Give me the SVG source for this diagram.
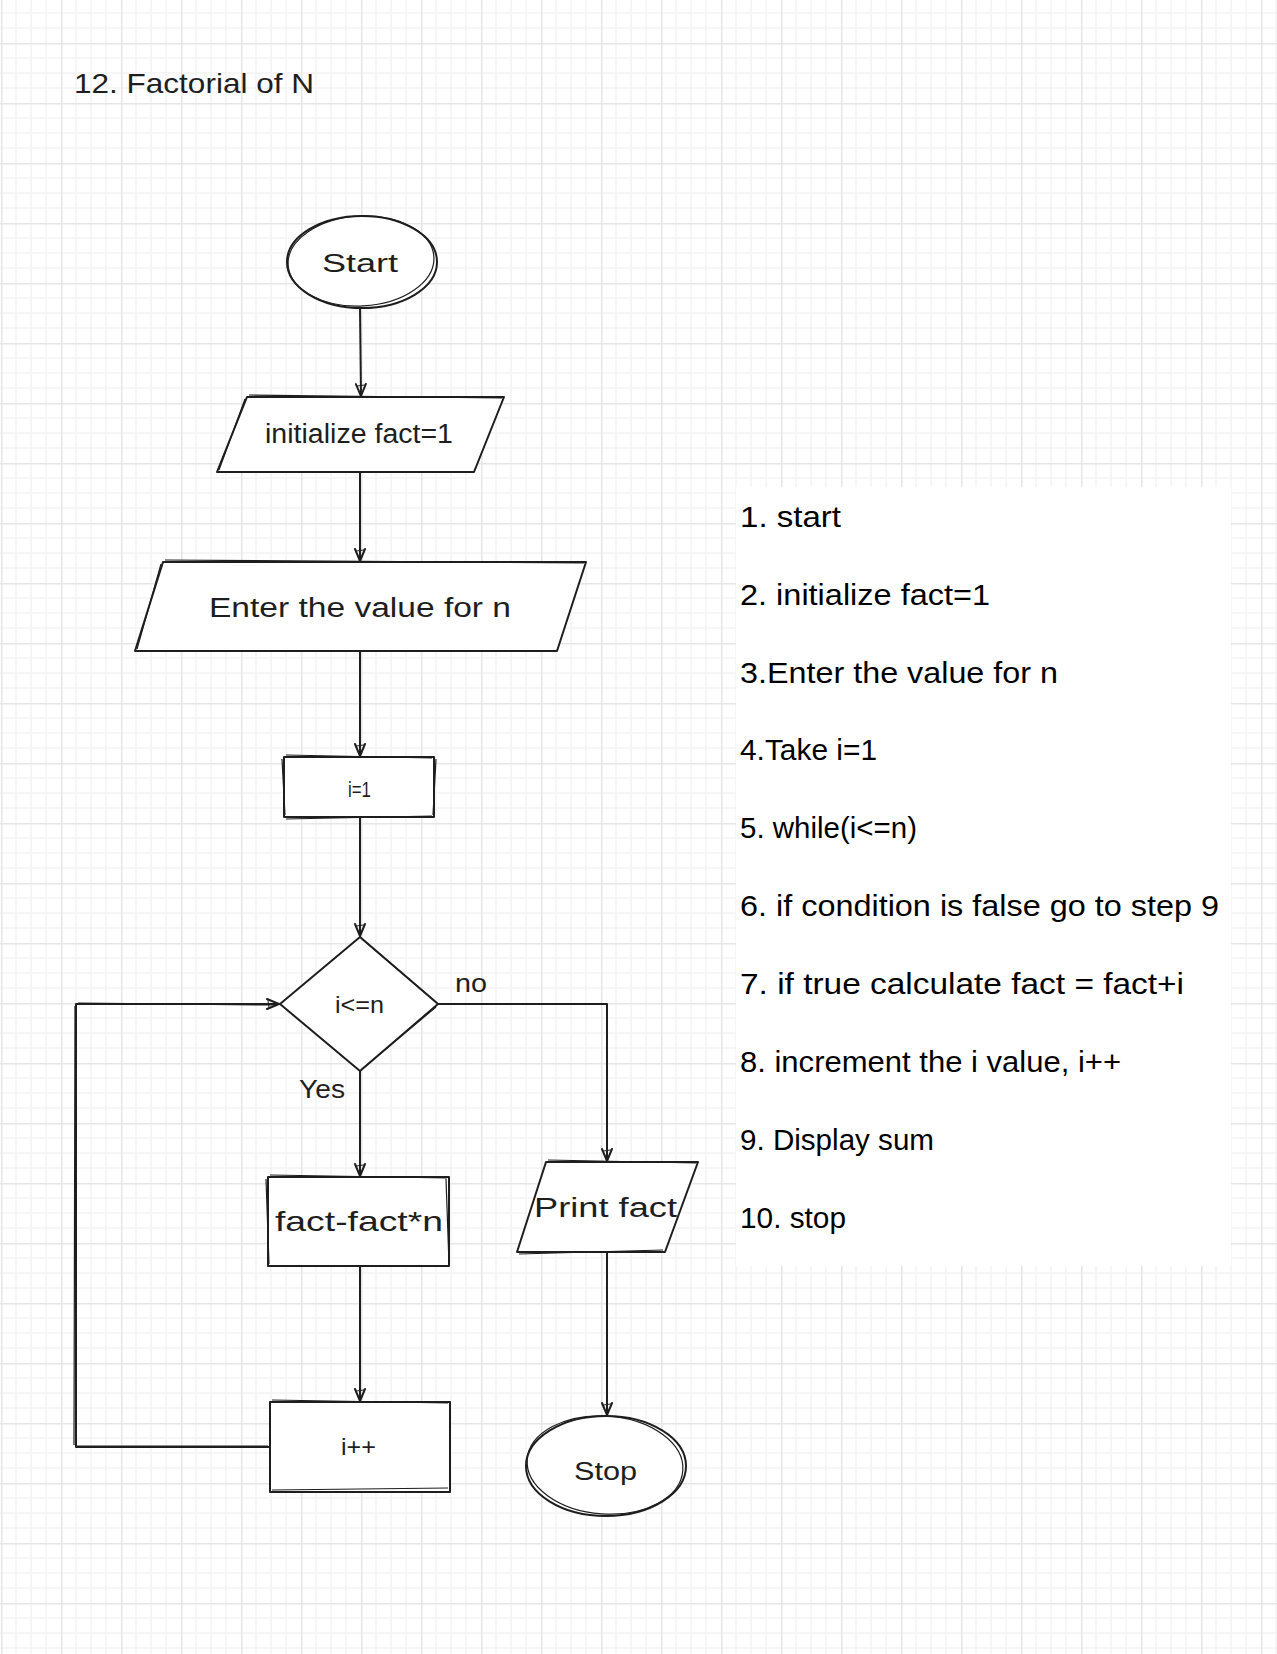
<svg xmlns="http://www.w3.org/2000/svg" width="1277" height="1654" viewBox="0 0 1277 1654">
  <style>
    .shape { fill: #ffffff; stroke: #1e1e1e; stroke-width: 2; stroke-linejoin: round; }
    .sk { fill: none; stroke: #1e1e1e; stroke-width: 1.2; stroke-linejoin: round; }
    .conn { fill: none; stroke: #1e1e1e; stroke-width: 2; stroke-linejoin: round; }
    .hand { font-family: "Liberation Sans", "DejaVu Sans", sans-serif; fill: #1e1e1e; }
    .note { font-family: "Liberation Sans", "DejaVu Sans", sans-serif; fill: #000000; font-size: 30px; }
  </style>
  <defs>
    <pattern id="grid" x="1" y="43" width="60" height="60" patternUnits="userSpaceOnUse">
      <rect x="14.25" y="0" width="1.5" height="60" fill="#f3f3f3"/>
      <rect x="29.25" y="0" width="1.5" height="60" fill="#f3f3f3"/>
      <rect x="44.25" y="0" width="1.5" height="60" fill="#f3f3f3"/>
      <rect x="0" y="14.25" width="60" height="1.5" fill="#f3f3f3"/>
      <rect x="0" y="29.25" width="60" height="1.5" fill="#f3f3f3"/>
      <rect x="0" y="44.25" width="60" height="1.5" fill="#f3f3f3"/>
      <rect x="0" y="0" width="1.5" height="60" fill="#e6e6e6"/>
      <rect x="0" y="0" width="60" height="1.5" fill="#e6e6e6"/>
    </pattern>
    <marker id="arr" viewBox="0 0 14 12" refX="13" refY="6" markerWidth="14" markerHeight="12" markerUnits="userSpaceOnUse" orient="auto">
      <path d="M1,1 L13,6 L1,11" fill="none" stroke="#1e1e1e" stroke-width="2" stroke-linejoin="round" stroke-linecap="round"/>
      <path d="M2,2.5 L3,9.5" fill="none" stroke="#1e1e1e" stroke-width="1" stroke-linecap="round"/>
    </marker>
  </defs>

  <rect x="0" y="0" width="1277" height="1654" fill="#ffffff"/>
  <rect x="0" y="0" width="1277" height="1654" fill="url(#grid)"/>

  <!-- notes panel -->
  <g id="notes">
    <rect x="736" y="487" width="495" height="779" fill="#ffffff"/>
    <text class="note" x="740" y="527" textLength="101" lengthAdjust="spacingAndGlyphs">1. start</text>
    <text class="note" x="740" y="605" textLength="250" lengthAdjust="spacingAndGlyphs">2. initialize fact=1</text>
    <text class="note" x="740" y="683" textLength="318" lengthAdjust="spacingAndGlyphs">3.Enter the value for n</text>
    <text class="note" x="740" y="760" textLength="137" lengthAdjust="spacingAndGlyphs">4.Take i=1</text>
    <text class="note" x="740" y="838" textLength="177" lengthAdjust="spacingAndGlyphs">5. while(i&lt;=n)</text>
    <text class="note" x="740" y="916" textLength="479" lengthAdjust="spacingAndGlyphs">6. if condition is false go to step 9</text>
    <text class="note" x="740" y="994" textLength="444" lengthAdjust="spacingAndGlyphs">7. if true calculate fact = fact+i</text>
    <text class="note" x="740" y="1072" textLength="381" lengthAdjust="spacingAndGlyphs">8. increment the i value, i++</text>
    <text class="note" x="740" y="1150" textLength="194" lengthAdjust="spacingAndGlyphs">9. Display sum</text>
    <text class="note" x="740" y="1228" textLength="106" lengthAdjust="spacingAndGlyphs">10. stop</text>
  </g>

  <g id="title">
    <text class="hand" x="74" y="93" font-size="28" textLength="240" lengthAdjust="spacingAndGlyphs">12. Factorial of N</text>
  </g>

  <!-- connectors -->
  <g id="connectors">
    <path class="conn" d="M360,308 L361,396" marker-end="url(#arr)"/>
    <path class="conn" d="M360,472 L360,561" marker-end="url(#arr)"/>
    <path class="conn" d="M360,652 L360,756" marker-end="url(#arr)"/>
    <path class="conn" d="M360,817 L360,936" marker-end="url(#arr)"/>
    <path class="conn" d="M360,1071 L360,1176" marker-end="url(#arr)"/>
    <path class="conn" d="M360,1266 L360,1401" marker-end="url(#arr)"/>
    <path class="conn" d="M270,1447 L76,1447 L76,1004 L279,1004" marker-end="url(#arr)"/>
    <path class="sk" d="M268,1446 L77,1446 M74,1445 L75,1006 M78,1003 L276,1005"/>
    <path class="conn" d="M438,1004 L607,1004 L607,1161" marker-end="url(#arr)"/>
    <path class="conn" d="M607,1252 L607,1415" marker-end="url(#arr)"/>
  </g>

  <g id="n-start">
    <ellipse class="shape" cx="362" cy="262" rx="75" ry="46"/>
    <ellipse class="sk" cx="361" cy="261" rx="73" ry="45" transform="rotate(-3 361 261)"/>
    <text class="hand" x="322" y="272" font-size="26" textLength="76" lengthAdjust="spacingAndGlyphs">Start</text>
  </g>

  <g id="n-init">
    <polygon class="shape" points="247,397 504,397 474,472 217,472"/>
    <path class="sk" d="M249,395 L502,398 M245,399 L219,470"/>
    <text class="hand" x="265" y="443" font-size="27" textLength="188" lengthAdjust="spacingAndGlyphs">initialize fact=1</text>
  </g>

  <g id="n-enter">
    <polygon class="shape" points="163,562 586,562 557,651 135,651"/>
    <path class="sk" d="M165,560 L584,563 M161,564 L137,649"/>
    <text class="hand" x="209" y="617" font-size="27" textLength="302" lengthAdjust="spacingAndGlyphs">Enter the value for n</text>
  </g>

  <g id="n-i1">
    <rect class="shape" x="284" y="757" width="150" height="60"/>
    <path class="sk" d="M286,755 L432,758 M286,819 L432,816 M282,759 L285,815 M436,759 L433,815"/>
    <text class="hand" x="348" y="797" font-size="22" textLength="23" lengthAdjust="spacingAndGlyphs">i=1</text>
  </g>

  <g id="n-cond">
    <polygon class="shape" points="360,937 438,1004 360,1071 280,1004"/>
    <path class="sk" d="M362,939 L436,1002 M436,1007 L362,1069"/>
    <text class="hand" x="335" y="1013" font-size="24" textLength="49" lengthAdjust="spacingAndGlyphs">i&lt;=n</text>
  </g>

  <g id="lbl-no">
    <text class="hand" x="455" y="992" font-size="26" textLength="32" lengthAdjust="spacingAndGlyphs">no</text>
  </g>
  <g id="lbl-yes">
    <text class="hand" x="299" y="1098" font-size="25" textLength="46" lengthAdjust="spacingAndGlyphs">Yes</text>
  </g>

  <g id="n-fact">
    <rect class="shape" x="268" y="1177" width="181" height="89"/>
    <path class="sk" d="M270,1175 L447,1178 M446,1179 L449,1264 M266,1179 L269,1264"/>
    <text class="hand" x="275" y="1231" font-size="28" textLength="168" lengthAdjust="spacingAndGlyphs">fact-fact*n</text>
  </g>

  <g id="n-inc">
    <rect class="shape" x="270" y="1402" width="180" height="90"/>
    <path class="sk" d="M272,1400 L448,1403 M272,1490 L448,1488"/>
    <text class="hand" x="341" y="1455" font-size="24" textLength="35" lengthAdjust="spacingAndGlyphs">i++</text>
  </g>

  <g id="n-print">
    <polygon class="shape" points="546,1162 698,1162 665,1252 517,1252"/>
    <path class="sk" d="M548,1160 L696,1163 M519,1254 L663,1250"/>
    <text class="hand" x="534" y="1217" font-size="27" textLength="143" lengthAdjust="spacingAndGlyphs">Print fact</text>
  </g>

  <g id="n-stop">
    <ellipse class="shape" cx="606" cy="1466" rx="80" ry="50"/>
    <ellipse class="sk" cx="605" cy="1465" rx="78" ry="49" transform="rotate(4 605 1465)"/>
    <text class="hand" x="574" y="1480" font-size="26" textLength="63" lengthAdjust="spacingAndGlyphs">Stop</text>
  </g>
</svg>
